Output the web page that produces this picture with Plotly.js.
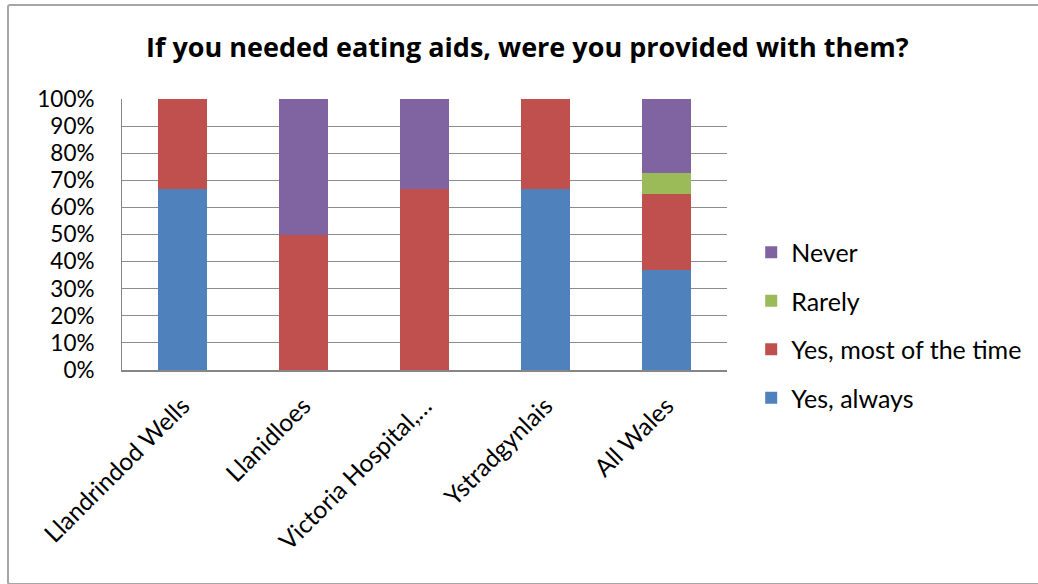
<!DOCTYPE html>
<html><head><meta charset="utf-8">
<script src="https://cdn.plot.ly/plotly-3.0.1.min.js"></script>
<style>
html,body{margin:0;padding:0;background:#fff;overflow:hidden;}
#wrap{position:relative;width:1038px;height:584px;overflow:hidden;}
#chart{width:1038px;height:584px;}
#frame{position:absolute;left:7px;top:4px;width:1080px;height:577px;border:2px solid #a6a6a6;border-radius:3px;pointer-events:none;}
</style></head>
<body>
<div id="wrap"><div id="chart"></div><div id="frame"></div></div>
<script>
const categories = ["Llandrindod Wells", "Llanidloes", "Victoria Hospital,\u2026", "Ystradgynlais", "All Wales"];
const yesAlways = [0.667, 0, 0, 0.667, 0.368];
const yesMost = [0.333, 0.5, 0.667, 0.333, 0.281];
const rarely = [0, 0, 0, 0, 0.078];
const never = [0, 0.5, 0.333, 0, 0.273];
const seriesNames = ["Yes, always", "Yes, most of the time", "Rarely", "Never"];
const seriesColors = ["#4F81BD", "#C0504D", "#9BBB59", "#8064A2"];
const seriesValues = [yesAlways, yesMost, rarely, never];
const yTicks = [0,0.1,0.2,0.3,0.4,0.5,0.6,0.7,0.8,0.9,1];
const yTickLabels = ["0%","10%","20%","30%","40%","50%","60%","70%","80%","90%","100%"];

const font = "Lato, 'Open Sans', sans-serif";
const traces = seriesNames.map((n,i)=>({
  type:'bar', name:n, x:categories, y:seriesValues[i],
  marker:{color:seriesColors[i], line:{width:0}},
  legendgroup:'g'+i, legendrank:seriesNames.length - i, hoverinfo:'skip'
}));
const layout = {
  width:1038, height:584,
  margin:{l:122, r:311, t:99, b:214, pad:0, autoexpand:false},
  barmode:'stack', bargap:0.6,
  paper_bgcolor:'#fff', plot_bgcolor:'#fff',
  font:{family:font, size:24, color:'#000'},
  title:{text:'<b>If you needed eating aids, were you provided with them?</b>',
    font:{family:"'Open Sans', sans-serif", size:27, color:'#000'}, x:0.508, xanchor:'center', y:0.918, yanchor:'middle'},
  xaxis:{type:'category', tickangle:-45, showgrid:false, showline:true, linecolor:'#868686', linewidth:2,
    ticks:'', ticklabelstandoff:10, tickfont:{family:font, size:24.5, color:'#000'}, automargin:false},
  yaxis:{range:[0,1], tickvals:yTicks, ticktext:yTickLabels, showgrid:true, gridcolor:'#8c8c8c', gridwidth:1,
    showline:true, linecolor:'#868686', linewidth:1, ticks:'', ticklen:0, ticklabelstandoff:22,
    tickfont:{family:font, size:22.5, color:'#000'}, zeroline:false, automargin:false},
  showlegend:true,
  legend:{x:1.04, xanchor:'left', y:0.166, yanchor:'middle', traceorder:'grouped', tracegroupgap:13,
    font:{family:font, size:25, color:'#000'}, bgcolor:'rgba(0,0,0,0)'}
};
Plotly.newPlot('chart', traces, layout, {displayModeBar:false, staticPlot:true});
</script>
</body></html>
